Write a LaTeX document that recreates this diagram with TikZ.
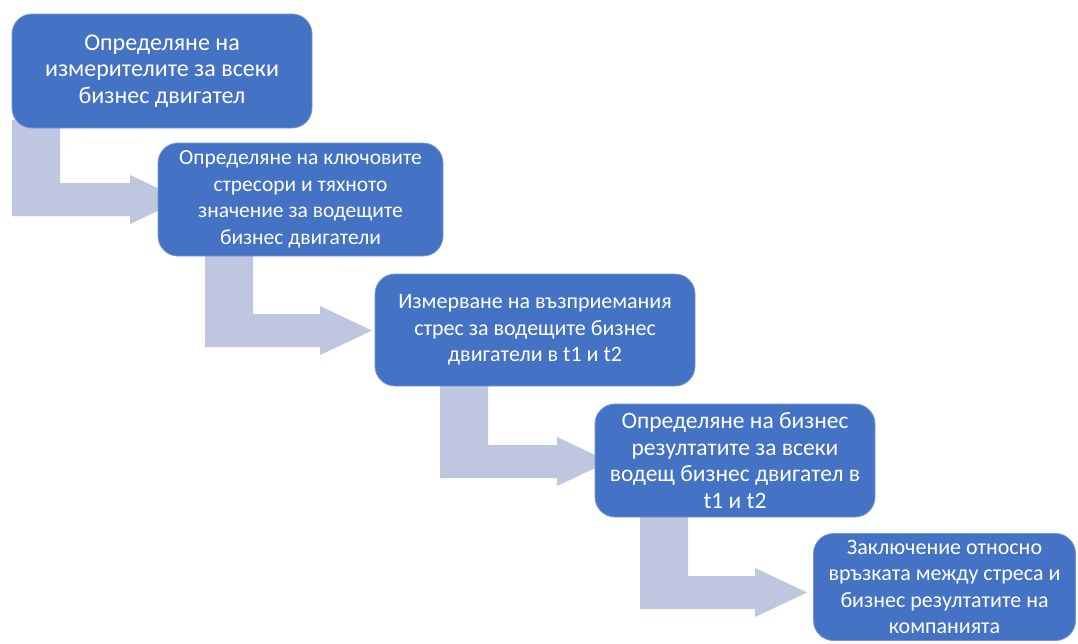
\documentclass[tikz,border=0pt]{standalone}
\usepackage{fontspec}
\setmainfont{Carlito}
\definecolor{boxblue}{RGB}{68,114,196}
\definecolor{boxedge}{RGB}{120,150,210}
\definecolor{arrowgray}{RGB}{191,198,224}
\newcommand{\bentarr}[4]{% #1 left x, #2 top y, #3 bottom y, #4 head start x
  \fill[arrowgray] (#1,#2) -- ({#1+48},#2) -- ({#1+48},{#3-33}) -- (#4,{#3-33})
    -- (#4,{#3-41}) -- ({#4+52},{#3-16.5}) -- (#4,{#3+8}) -- (#4,#3) -- (#1,#3) -- cycle;}
\tikzset{
  stepbox/.style={rectangle, rounded corners=20pt, fill=boxblue, draw=boxedge, line width=0.8pt,
    text=white, align=center, inner sep=0pt},
  fs/.style={font=\fontsize{#1}{26.5pt}\selectfont},
}
\begin{document}
\begin{tikzpicture}[x=1pt,y=-1pt]
\useasboundingbox[fill=white] (0,0) rectangle (1078,643);
% bent arrows (behind boxes)
\bentarr{12}{120}{216}{130}
\bentarr{205}{250}{347}{320}
\bentarr{440}{380}{478}{557}
\bentarr{640}{510}{609}{755}
% boxes
\node[stepbox, fs=24pt, minimum width=300pt, minimum height=114pt] (b1) at (162,71)
  {Определяне на\\измерителите за всеки\\бизнес двигател};
\node[stepbox, fs=21.5pt, minimum width=285pt, minimum height=113pt] (b2) at (300.5,199.5)
  {Определяне на ключовите\\стресори и тяхното\\значение за водещите\\бизнес двигатели};
\node[stepbox, fs=22pt, minimum width=320pt, minimum height=112pt] (b3) at (535,330)
  {Измерване на възприемания\\стрес за водещите бизнес\\двигатели в t1 и t2};
\node[stepbox, fs=23.5pt, minimum width=280pt, minimum height=113pt] (b4) at (735,460.5)
  {Определяне на бизнес\\резултатите за всеки\\водещ бизнес двигател в\\t1 и t2};
\node[stepbox, fs=22pt, minimum width=262pt, minimum height=107pt] (b5) at (944.5,587)
  {Заключение относно\\връзката между стреса и\\бизнес резултатите на\\компанията};
\end{tikzpicture}
\end{document}
